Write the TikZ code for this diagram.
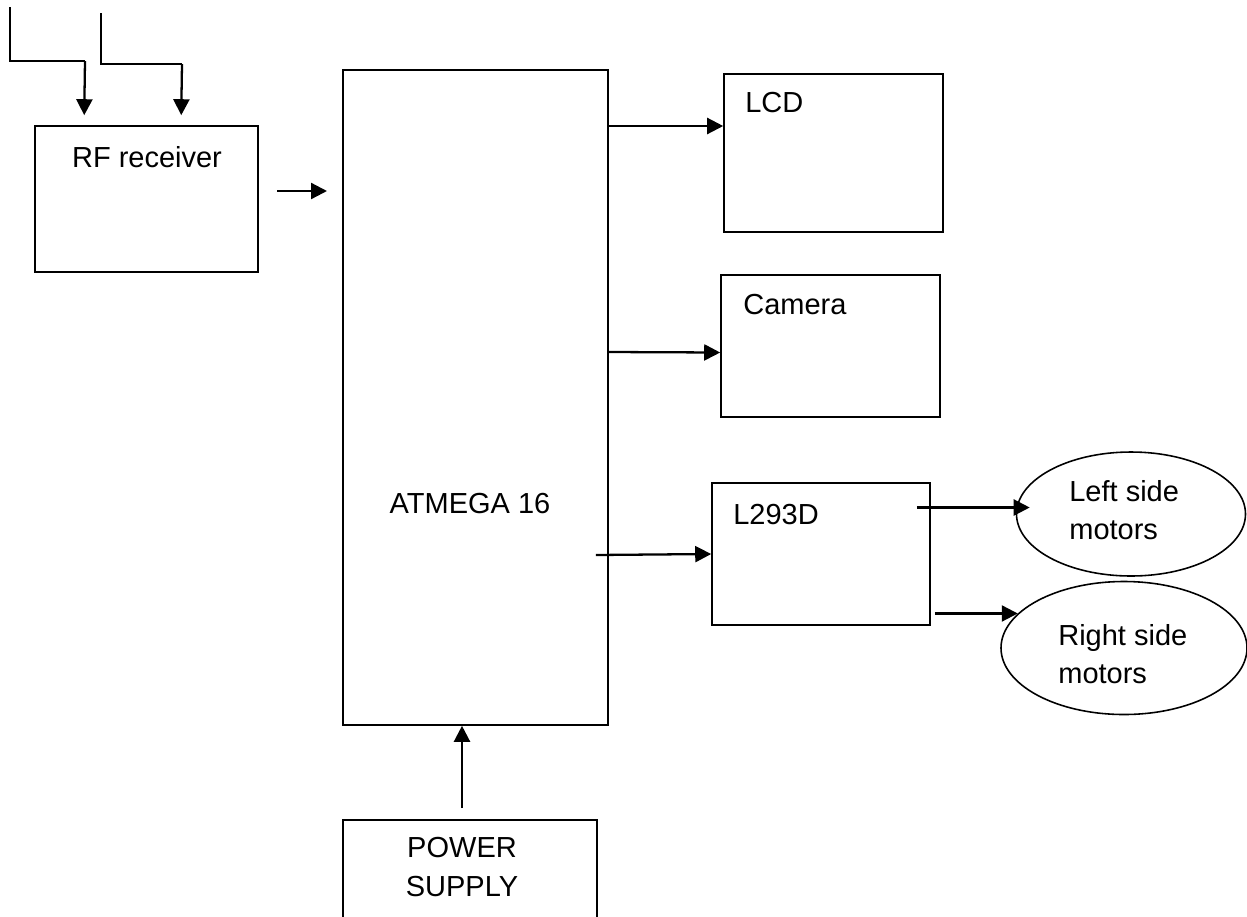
\documentclass[tikz,border=0pt]{standalone}
\usepackage{fontspec}
\setmainfont{Liberation Sans}
\usetikzlibrary{arrows.meta,shapes.geometric}

\tikzset{
  blockbox/.style={draw, line width=0.9pt, minimum width=#1},
  blockbox/.default=4.4cm,
  motor/.style={draw, ellipse, line width=0.9pt},
  arr/.style={line width=1.3pt, -{Triangle[length=3.2mm,width=3.2mm]}},
  wire/.style={line width=1.3pt},
  lbl/.style={inner sep=0pt, font=\fontsize{16.5}{22}\selectfont}
}

\begin{document}
\begin{tikzpicture}
    \useasboundingbox (0,0) rectangle (24.94,-18.32);

    % ================= BLOCKS =================
    \node[blockbox=4.46cm, minimum height=2.92cm] (rf)   at (2.93,-3.98) {};
    \node[blockbox=5.3cm,  minimum height=13.1cm] (atm)  at (9.51,-7.95) {};
    \node[blockbox=4.38cm, minimum height=3.16cm] (lcd)  at (16.67,-3.06) {};
    \node[blockbox=4.38cm, minimum height=2.84cm] (cam)  at (16.61,-6.92) {};
    \node[blockbox=4.36cm, minimum height=2.84cm] (drv)  at (16.42,-11.08) {};
    \node[blockbox=5.08cm, minimum height=3.6cm]  (psu)  at (9.40,-18.2) {};
    \node[motor, minimum width=4.58cm, minimum height=2.48cm] (lmot) at (22.62,-10.28) {};
    \node[motor, minimum width=4.92cm, minimum height=2.66cm] (rmot) at (22.48,-12.96) {};

    % Labels
    \node[lbl] (rftxt)  at (2.94,-3.14) {RF receiver};
    \node[lbl] (atmtxt) at (9.40,-10.08) {ATMEGA 16};
    \node[lbl, anchor=west] (lcdtxt) at (14.90,-2.06) {LCD};
    \node[lbl, anchor=west] (camtxt) at (14.86,-6.10) {Camera};
    \node[lbl, anchor=west] (drvtxt) at (14.66,-10.30) {L293D};
    \node[lbl, anchor=west, align=left] (lmtxt) at (21.38,-10.20) {Left side\\motors};
    \node[lbl, anchor=west, align=left] (rmtxt) at (21.16,-13.08) {Right side\\motors};
    \node[lbl, align=center] (psutxt) at (9.24,-17.34) {POWER\\SUPPLY};

    % ================= ANTENNAS =================
    \coordinate (ant1) at (0.20,-0.14);
    \coordinate (ant2) at (2.02,-0.26);
    \draw[wire] (ant1) |- (1.70,-1.22);
    \draw[arr] (1.70,-1.22) -- ([shift={(1.0,0.2)}]rf.north west);
    \draw[wire] (ant2) |- (3.64,-1.28);
    \draw[arr] (3.64,-1.28) -- ([shift={(2.94,0.2)}]rf.north west);

    % ================= CONNECTIONS =================
    \coordinate (rfout) at (5.54,-3.82);
    \coordinate (atmin) at (6.54,-3.82);
    \draw[arr] (rfout) -- (atmin);

    \draw[arr] (atm.east |- 0,-2.52) -- (lcd.west |- 0,-2.52);
    \draw[arr] (atm.east |- 0,-7.04) -- (cam.west |- 0,-7.05);
    \draw[arr] ([xshift=-0.26cm]atm.east |- 0,-11.10) -- (drv.west);

    \draw[arr] ([xshift=-0.28cm]drv.east |- 0,-10.15) -- ([xshift=0.28cm]lmot.west |- 0,-10.15);
    \draw[arr] ([xshift=0.08cm]drv.east |- rmot.162) -- (rmot.162);

    \draw[arr] ([yshift=0.22cm]psu.north -| 9.24,0) -- (atm.south -| 9.24,0);
\end{tikzpicture}
\end{document}
